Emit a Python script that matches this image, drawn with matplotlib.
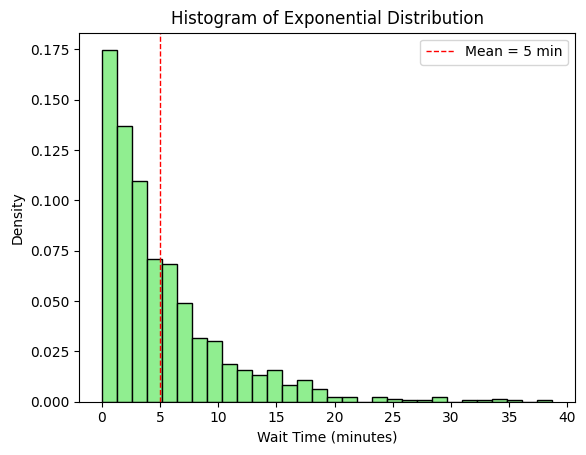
import numpy as np
import matplotlib
matplotlib.use('Agg')
import matplotlib.pyplot as plt

# bin edges (30 bins) and density
bin_min, bin_max, n_bins = 0.0, 38.7, 30
density = [0.1745, 0.1367, 0.1094, 0.0708, 0.0683, 0.0489, 0.0315, 0.0300,
           0.0187, 0.0156, 0.0131, 0.0156, 0.0081, 0.0106, 0.0062, 0.0022,
           0.0022, 0.0, 0.0022, 0.0013, 0.0007, 0.0007, 0.0022, 0.0,
           0.0007, 0.0007, 0.0013, 0.0007, 0.0, 0.0007]
mean_wait = 5

edges = np.linspace(bin_min, bin_max, n_bins + 1)
centers = (edges[:-1] + edges[1:]) / 2

fig = plt.figure(figsize=(5.86, 4.55), dpi=100)
ax = fig.add_axes([0.1353, 0.1171, 0.981 - 0.1353, 0.928 - 0.1171])
ax.hist(centers, bins=edges, weights=density, color='lightgreen', edgecolor='black')
ax.axvline(mean_wait, color='red', linestyle='--', linewidth=1, label=f'Mean = {mean_wait} min')
ax.set_title('Histogram of Exponential Distribution')
ax.set_xlabel('Wait Time (minutes)')
ax.set_ylabel('Density')
ax.legend()

fig.savefig('out.png', dpi=100)
